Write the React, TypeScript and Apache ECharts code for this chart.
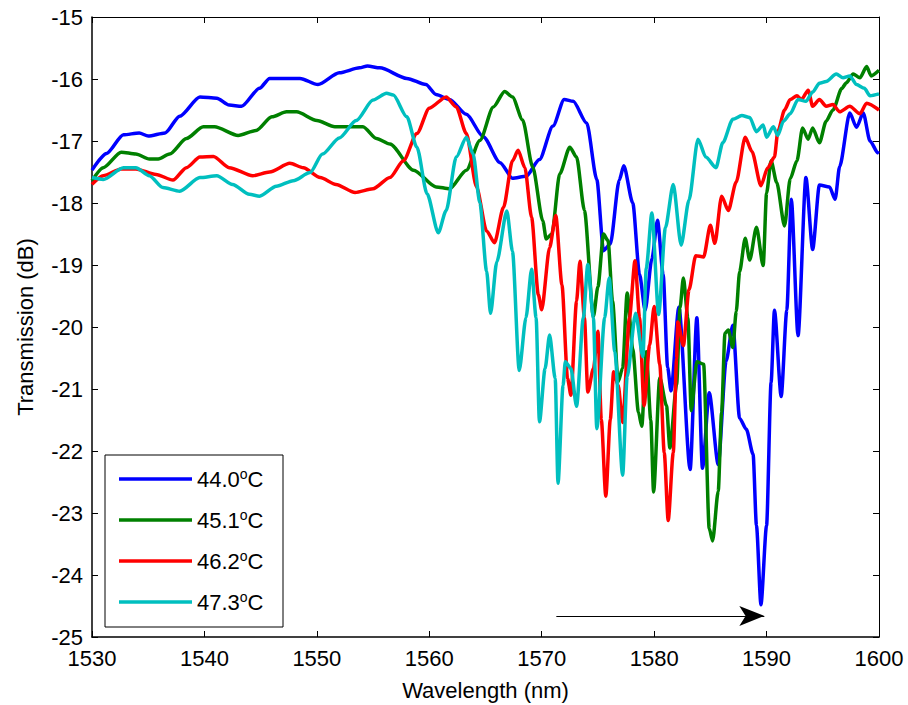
import React, { useEffect, useRef } from 'react';
import * as echarts from 'echarts';

const FONT = '"Liberation Sans", Arial, sans-serif';

const wavelengthMin = 1530;
const wavelengthMax = 1600;
const wavelengthStep = 10;
const dbMin = -25;
const dbMax = -15;
const dbStep = 1;

const seriesNames = ['44.0', '45.1', '46.2', '47.3'];
const seriesColors = ['#0000ff', '#008000', '#ff0000', '#00bfbf'];

const t440: [number, number][] = [
  [1530, -17.47], [1531.3, -17.2], [1532.8, -16.9], [1534.2, -16.87], [1535, -16.92],
  [1536.5, -16.87], [1537.8, -16.6], [1539.6, -16.29], [1541.1, -16.31], [1542.2, -16.42],
  [1543.3, -16.44], [1544.9, -16.15], [1545.8, -15.99], [1548.5, -15.99], [1550.1, -16.09],
  [1552, -15.9], [1553.8, -15.82], [1554.5, -15.79], [1555.6, -15.82], [1558, -15.99],
  [1559.7, -16.09], [1560.6, -16.25], [1561.8, -16.33], [1563.3, -16.57], [1564.8, -16.93],
  [1566.3, -17.35], [1567.4, -17.6], [1568.6, -17.57], [1569.8, -17.3], [1571, -16.76],
  [1572, -16.33], [1572.8, -16.36], [1574, -16.71], [1574.9, -17.62], [1575.5, -18.77],
  [1576.1, -18.66], [1576.9, -17.63], [1577.3, -17.4], [1578.1, -18.0], [1578.7, -19.15],
  [1579.2, -19.73], [1579.8, -18.9], [1580.3, -18.28], [1580.8, -19.15], [1581.2, -20.65],
  [1581.5, -21.03], [1582.2, -19.68], [1583.2, -22.3], [1583.8, -19.85], [1584.3, -22.28],
  [1584.9, -21.06], [1585.7, -22.22], [1586.4, -20.55], [1587, -19.97], [1587.6, -21.47],
  [1588.2, -21.65], [1588.8, -22.05], [1589.1, -23.2], [1589.5, -24.48], [1590, -23.2],
  [1590.4, -20.9], [1590.7, -19.73], [1591.3, -21.12], [1591.8, -19.73], [1592.2, -17.94],
  [1592.8, -20.14], [1593.5, -17.59], [1594.1, -18.75], [1594.7, -17.71], [1595.6, -17.74],
  [1596.1, -17.94], [1596.5, -17.41], [1597.4, -16.55], [1598, -16.78], [1598.6, -16.55],
  [1599.2, -17.0], [1599.9, -17.19], [1600, -17.2],
];

const t451: [number, number][] = [
  [1530, -17.64], [1531, -17.43], [1532.6, -17.18], [1533.9, -17.21], [1535.1, -17.29],
  [1535.9, -17.29], [1536.9, -17.21], [1538.4, -16.96], [1539.9, -16.77], [1540.9, -16.77],
  [1543, -16.91], [1544.6, -16.83], [1546, -16.61], [1547.3, -16.53], [1548.2, -16.53],
  [1550, -16.67], [1551.6, -16.77], [1554.1, -16.77], [1555.3, -16.96], [1556.5, -17.05],
  [1558.6, -17.47], [1560.6, -17.74], [1561.8, -17.77], [1563.3, -17.47], [1564.5, -16.99],
  [1565.7, -16.45], [1566.7, -16.2], [1567.4, -16.29], [1568.3, -16.66], [1569.2, -17.42],
  [1570.1, -18.29], [1570.4, -18.58], [1570.9, -18.5], [1571.6, -17.53], [1572.5, -17.1],
  [1573.1, -17.26], [1573.8, -18.12], [1574.6, -19.83], [1575.0, -19.35], [1575.5, -18.5],
  [1575.9, -18.61], [1576.3, -19.58], [1576.8, -20.88], [1577.2, -20.66], [1577.6, -19.45],
  [1578.1, -20.36], [1578.6, -21.37], [1578.9, -21.6], [1579.3, -20.4], [1579.7, -21.5],
  [1579.95, -22.66], [1580.5, -20.82], [1581.1, -21.27], [1581.4, -21.95], [1582, -20.93],
  [1582.3, -19.69], [1582.6, -19.21], [1583, -19.85], [1583.3, -21.35], [1583.8, -20.56],
  [1584.4, -20.6], [1584.9, -23.25], [1585.2, -23.45], [1585.7, -22.65], [1586, -21.38],
  [1586.3, -20.1], [1586.6, -20.05], [1587, -20.33], [1587.3, -19.75], [1587.6, -19.11],
  [1588.1, -18.57], [1588.5, -18.92], [1589.1, -18.39], [1589.7, -19.01], [1590, -17.84],
  [1590.4, -17.32], [1590.9, -17.67], [1591.6, -18.37], [1592.1, -17.61], [1592.7, -17.32],
  [1593.2, -16.79], [1593.7, -16.97], [1594.1, -16.79], [1594.7, -17.03], [1595.3, -16.68],
  [1595.9, -16.5], [1596.7, -16.15], [1597.1, -16.06], [1597.7, -15.92], [1598.3, -15.98],
  [1598.9, -15.8], [1599.3, -15.95], [1600, -15.86],
];

const t462: [number, number][] = [
  [1530, -17.7], [1531, -17.56], [1532.6, -17.45], [1533.9, -17.45], [1535.7, -17.54],
  [1537.2, -17.63], [1538.4, -17.43], [1539.6, -17.26], [1540.8, -17.25], [1542.2, -17.43],
  [1544.3, -17.56], [1545.8, -17.5], [1547.6, -17.36], [1548.8, -17.43], [1550.3, -17.59],
  [1551.7, -17.7], [1553.4, -17.83], [1555, -17.77], [1556.5, -17.59], [1557.7, -17.32],
  [1558.9, -16.88], [1560, -16.47], [1561.5, -16.29], [1562.4, -16.45], [1563.3, -16.88],
  [1564.2, -17.74], [1565.1, -18.45], [1565.8, -18.64], [1566.6, -18.07], [1567.4, -17.32],
  [1567.9, -17.15], [1568.5, -17.43], [1569.1, -18.23], [1569.7, -19.48], [1570, -19.72],
  [1570.7, -18.72], [1571.25, -18.2], [1571.8, -19.32], [1572.3, -20.83], [1572.6, -21.1],
  [1573.1, -19.58], [1573.4, -18.94], [1573.8, -19.85], [1574.1, -21.05], [1574.6, -20.67],
  [1575, -20.07], [1575.3, -21.49], [1575.7, -22.73], [1576.1, -21.49], [1576.4, -20.72],
  [1576.8, -20.94], [1577.2, -21.54], [1577.8, -19.85], [1578.3, -18.93], [1578.7, -19.85],
  [1579.1, -21.27], [1579.6, -20.29], [1580, -19.67], [1580.5, -20.6], [1580.9, -22.03],
  [1581.25, -23.12], [1581.7, -22.03], [1582, -20.51], [1582.1, -19.92], [1582.6, -20.3],
  [1583.1, -19.4], [1583.7, -18.85], [1584.4, -18.87], [1585, -18.36], [1585.4, -18.65],
  [1586, -17.89], [1586.6, -18.12], [1587.3, -17.66], [1588.1, -16.94], [1588.7, -17.17],
  [1589.5, -17.72], [1590.1, -17.43], [1590.7, -17.26], [1591, -16.85], [1591.6, -16.5],
  [1592.1, -16.33], [1592.7, -16.27], [1593.1, -16.33], [1593.7, -16.18], [1594.1, -16.44],
  [1594.7, -16.33], [1595.3, -16.44], [1595.9, -16.41], [1596.5, -16.53], [1597.4, -16.44],
  [1598.3, -16.56], [1598.9, -16.39], [1600, -16.5],
];

const t473: [number, number][] = [
  [1530, -17.59], [1531, -17.62], [1532.8, -17.43], [1533.9, -17.43], [1535.1, -17.56],
  [1536.3, -17.75], [1537.8, -17.81], [1539.6, -17.59], [1541.1, -17.56], [1542.5, -17.7],
  [1544, -17.86], [1544.9, -17.89], [1546.4, -17.73], [1547.9, -17.64], [1549.4, -17.51],
  [1550.5, -17.21], [1552, -16.95], [1553.5, -16.67], [1555, -16.34], [1556.2, -16.23],
  [1556.8, -16.26], [1558, -16.61], [1558.9, -17.1], [1559.8, -17.85], [1560.8, -18.48],
  [1561.5, -18.12], [1562.4, -17.26], [1563.3, -16.94], [1563.9, -17.21], [1564.5, -18.0],
  [1565.1, -19.1], [1565.45, -19.78], [1566, -18.95], [1566.9, -18.13], [1567.4, -18.78],
  [1568, -20.7], [1568.6, -19.85], [1569.1, -19.07], [1569.5, -19.85], [1569.8, -21.53],
  [1570.3, -20.67], [1570.7, -20.13], [1571.2, -20.83], [1571.45, -22.52], [1571.9, -20.94],
  [1572.1, -20.56], [1572.6, -20.67], [1573.1, -21.28], [1573.7, -19.85], [1574.1, -18.99],
  [1574.6, -19.85], [1574.9, -21.64], [1575.6, -19.85], [1576, -19.21], [1576.5, -20.4],
  [1577.2, -22.39], [1577.6, -20.8], [1578.35, -19.78], [1579, -20.48], [1579.3, -19.05],
  [1579.8, -18.16], [1580.4, -19.8], [1581, -18.4], [1581.7, -17.7], [1582.4, -18.68],
  [1583.1, -17.95], [1583.9, -16.97], [1584.6, -17.26], [1585.5, -17.43], [1586.1, -17.03],
  [1587, -16.65], [1587.8, -16.59], [1588.5, -16.62], [1589.1, -16.85], [1589.7, -16.74],
  [1590, -16.94], [1590.6, -16.77], [1591, -16.91], [1591.5, -16.68], [1592.1, -16.56],
  [1592.8, -16.33], [1593.5, -16.36], [1594.1, -16.21], [1594.7, -16.07], [1595.3, -16.04],
  [1596.2, -15.92], [1596.8, -15.98], [1597.4, -15.95], [1598, -16.09], [1598.7, -16.15],
  [1599.2, -16.27], [1600, -16.24],
];

const seriesData = [t440, t451, t462, t473];

const arrowStart: [number, number] = [1571.3, -24.66];
const arrowEnd: [number, number] = [1589.8, -24.66];

export default function App() {
  const ref = useRef<HTMLDivElement>(null);

  useEffect(() => {
    if (!ref.current) return;
    const chart = echarts.init(ref.current, undefined, { renderer: 'svg' });

    const textBase = { fontFamily: FONT, fontSize: 22, color: '#000' };

    const xCommon = {
      type: 'value' as const,
      min: wavelengthMin,
      max: wavelengthMax,
      interval: wavelengthStep,
      splitLine: { show: false },
    };
    const yCommon = {
      type: 'value' as const,
      min: dbMin,
      max: dbMax,
      interval: dbStep,
      splitLine: { show: false },
    };

    const series: any[] = seriesNames.map((name, i) => ({
      name,
      type: 'line',
      data: seriesData[i],
      symbol: 'none',
      showSymbol: false,
      smooth: 0.25,
      smoothMonotone: 'x',
      lineStyle: { color: seriesColors[i], width: 3.5 },
      itemStyle: { color: seriesColors[i] },
      emphasis: { disabled: true },
      z: 2 + i * 0.01,
    }));

    series.push({
      name: 'arrow',
      type: 'line',
      data: [],
      symbol: 'none',
      markLine: {
        silent: true,
        symbol: ['none', 'arrow'],
        symbolSize: [15, 25],
        label: { show: false },
        lineStyle: { color: '#000', width: 1.2, type: 'solid' },
        itemStyle: { color: '#000' },
        emphasis: { disabled: true },
        data: [[{ coord: arrowStart }, { coord: arrowEnd }]],
      },
    });

    chart.setOption({
      animation: false,
      backgroundColor: '#fff',
      grid: { left: 92, top: 17, right: 29, bottom: 68, outerBoundsMode: 'none' },
      xAxis: [
        {
          ...xCommon,
          position: 'bottom',
          axisLine: { show: true, onZero: false, lineStyle: { color: '#000', width: 1.5 } },
          axisTick: { show: true, inside: true, length: 6, lineStyle: { color: '#000', width: 1 } },
          axisLabel: { ...textBase, lineHeight: 18, margin: 12, formatter: (v: number) => String(v) },
          name: 'Wavelength (nm)',
          nameLocation: 'middle',
          nameGap: 53,
          nameTextStyle: { ...textBase, verticalAlign: 'middle' },
        },
        {
          ...xCommon,
          position: 'top',
          axisLine: { show: true, onZero: false, lineStyle: { color: '#000', width: 1 } },
          axisTick: { show: true, inside: true, length: 6, lineStyle: { color: '#000', width: 1 } },
          axisLabel: { show: false },
        },
      ],
      yAxis: [
        {
          ...yCommon,
          position: 'left',
          axisLine: { show: true, onZero: false, lineStyle: { color: '#000', width: 1.5 } },
          axisTick: { show: true, inside: true, length: 6, lineStyle: { color: '#000', width: 1 } },
          axisLabel: { ...textBase, lineHeight: 16, margin: 9 },
          name: 'Transmission (dB)',
          nameLocation: 'middle',
          nameGap: 67,
          nameRotate: 90,
          nameTextStyle: { ...textBase, verticalAlign: 'middle' },
        },
        {
          ...yCommon,
          position: 'right',
          axisLine: { show: true, onZero: false, lineStyle: { color: '#000', width: 1 } },
          axisTick: { show: true, inside: true, length: 6, lineStyle: { color: '#000', width: 1 } },
          axisLabel: { show: false },
        },
      ],
      legend: {
        data: seriesNames.map((n) => ({ name: n, icon: 'rect' })),
        orient: 'vertical',
        left: 119,
        top: 467,
        padding: 0,
        itemWidth: 73,
        itemHeight: 3.5,
        itemGap: 17,
        selectedMode: false,
        formatter: (n: string) => `{main|${n}}{sup|o}{main|C}`,
        textStyle: {
          ...textBase,
          rich: {
            main: { fontFamily: FONT, fontSize: 22, lineHeight: 24, color: '#000' },
            sup: {
              fontFamily: FONT,
              fontSize: 14,
              lineHeight: 14,
              padding: [0, 0, 10, 0],
              color: '#000',
            },
          },
        },
        z: 10,
      },
      graphic: [
        {
          type: 'rect',
          z: 5,
          silent: true,
          shape: { x: 105, y: 455, width: 178, height: 172 },
          style: { fill: '#fff', stroke: '#000', lineWidth: 1 },
        },
      ],
      series,
    });

    return () => chart.dispose();
  }, []);

  return (
    <div
      ref={ref}
      style={{ position: 'absolute', left: 0, top: 0, width: 908, height: 705, background: '#fff' }}
    />
  );
}
